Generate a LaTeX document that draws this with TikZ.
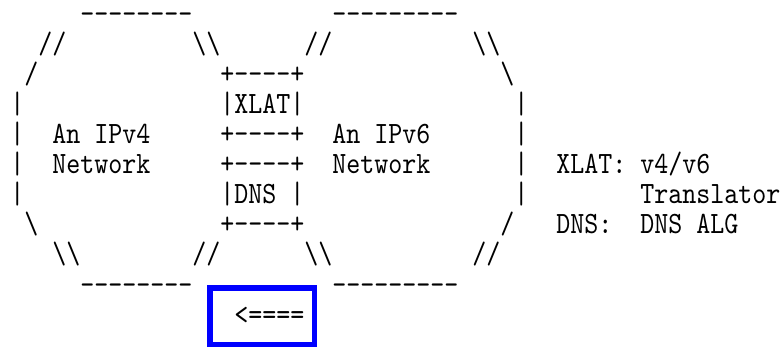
\documentclass[tikz,border=0pt]{standalone}
\usepackage{fontspec}
\setmonofont{lmmono10-regular.otf}[FakeStretch=0.86]
\definecolor{boxblue}{rgb}{0,0,1}

\begin{document}
\begin{tikzpicture}[x=7pt,y=-15.05pt,
  ascii/.style={anchor=base west,inner sep=0pt,
    font=\ttfamily\fontsize{15.5pt}{18pt}\selectfont\frenchspacing},
  hilite/.style={draw=boxblue,line width=2.75pt}]
  \useasboundingbox (-0.714,-0.399) rectangle (55.14,11.23);
  % top edges
  \node[ascii] (v4top) at (5,0.37) {--------};
  \node[ascii] (v6top) at (23,0.37) {---------};
  \node[ascii] (v4nw) at (2,1.37) {//};
  \node[ascii] (v4ne) at (13,1.37) {\textbackslash\textbackslash};
  \node[ascii] (v6nw) at (21,1.37) {//};
  \node[ascii] (v6ne) at (33,1.37) {\textbackslash\textbackslash};
  \node[ascii] (v4w) at (1,2.37) {/};
  \node[ascii] (xlattop) at (15,2.37) {+----+};
  \node[ascii] (v6e) at (35,2.37) {\textbackslash};
  % middle rows
  \node[ascii] (v4a) at (0,3.37) {|};
  \node[ascii] (xlat) at (15,3.37) {|XLAT|};
  \node[ascii] (v6a) at (36,3.37) {|};
  \node[ascii] (v4b) at (0,4.37) {|};
  \node[ascii] (v4lbl) at (3,4.37) {An IPv4};
  \node[ascii] (xlatbot) at (15,4.37) {+----+};
  \node[ascii] (v6lbl) at (23,4.37) {An IPv6};
  \node[ascii] (v6b) at (36,4.37) {|};
  \node[ascii] (v4c) at (0,5.37) {|};
  \node[ascii] (v4net) at (3,5.37) {Network};
  \node[ascii] (dnstop) at (15,5.37) {+----+};
  \node[ascii] (v6net) at (23,5.37) {Network};
  \node[ascii] (v6c) at (36,5.37) {|};
  \node[ascii] (keyxlat) at (39,5.37) {XLAT: v4/v6};
  \node[ascii] (v4d) at (0,6.37) {|};
  \node[ascii] (dns) at (15,6.37) {|DNS |};
  \node[ascii] (v6d) at (36,6.37) {|};
  \node[ascii] (keytrans) at (45,6.37) {Translator};
  \node[ascii] (v4sw) at (1,7.37) {\textbackslash};
  \node[ascii] (dnsbot) at (15,7.37) {+----+};
  \node[ascii] (v6sw) at (35,7.37) {/};
  \node[ascii] (keydns) at (39,7.37) {DNS:};
  \node[ascii] (keyalg) at (45,7.37) {DNS ALG};
  % bottom edges
  \node[ascii] (v4s) at (3,8.37) {\textbackslash\textbackslash};
  \node[ascii] (v4se) at (13,8.37) {//};
  \node[ascii] (v6s) at (21,8.37) {\textbackslash\textbackslash};
  \node[ascii] (v6se) at (33,8.37) {//};
  \node[ascii] (v4bot) at (5,9.37) {--------};
  \node[ascii] (v6bot) at (23,9.37) {---------};
  % flow direction
  \node[ascii] (flow) at (16,10.37) {<====};
  \draw[hilite] (14.29,9.17) rectangle (21.75,11.05);
\end{tikzpicture}
\end{document}
